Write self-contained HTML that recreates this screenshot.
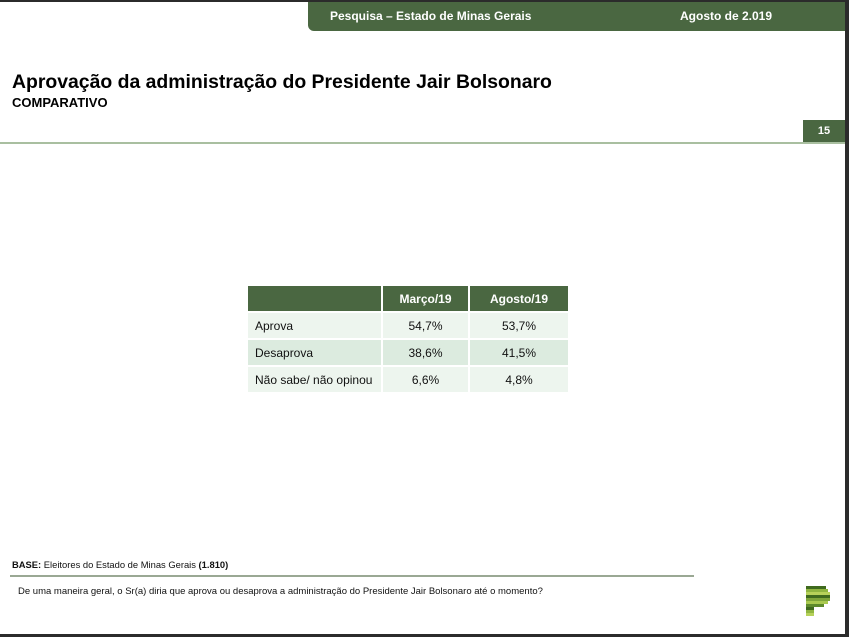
<!DOCTYPE html>
<html><head><meta charset="utf-8"><style>
*{margin:0;padding:0;box-sizing:border-box}
body{width:849px;height:637px;background:#2b2b2b;font-family:"Liberation Sans",Arial,sans-serif;position:relative;overflow:hidden}
#slide{position:absolute;left:0;top:2px;width:845px;height:632px;background:#fff}
.abs{position:absolute}
#hdr{left:308px;top:0;width:537px;height:29px;background:#4a6741;border-bottom-left-radius:6px;color:#fff;font-weight:bold;font-size:12px}
table{position:absolute;left:246px;top:282px;border-collapse:collapse;font-size:12px;color:#111}
td,th{border:2px solid #fff;height:27px}
th{background:#4a6741;color:#fff;font-weight:bold}
td{text-align:center}
td.l{text-align:left;padding-left:7px}
tr.a td{background:#edf5ee}
tr.b td{background:#dcebdf}
</style></head><body>
<div id="slide">
<div id="hdr" class="abs">
<span class="abs" style="left:22px;top:7px">Pesquisa – Estado de Minas Gerais</span>
<span class="abs" style="left:372px;top:7px">Agosto de 2.019</span>
</div>
<div class="abs" style="left:12px;top:69px;font-size:19.4px;font-weight:bold;color:#000">Aprovação da administração do Presidente Jair Bolsonaro</div>
<div class="abs" style="left:12px;top:93px;font-size:13px;font-weight:bold;color:#000">COMPARATIVO</div>
<div class="abs" style="left:803px;top:118px;width:42px;height:22px;background:#4a6741;color:#fff;font-size:11px;font-weight:bold;text-align:center;line-height:22px">15</div>
<div class="abs" style="left:0;top:140px;width:845px;height:2px;background:#a9bfa0"></div>
<table>
<tr><th style="width:135px"></th><th style="width:87px">Março/19</th><th style="width:100px">Agosto/19</th></tr>
<tr class="a"><td class="l">Aprova</td><td>54,7%</td><td>53,7%</td></tr>
<tr class="b"><td class="l">Desaprova</td><td>38,6%</td><td>41,5%</td></tr>
<tr class="a"><td class="l">Não sabe/ não opinou</td><td>6,6%</td><td>4,8%</td></tr>
</table>
<div class="abs" style="left:12px;top:557px;font-size:9.4px;color:#111"><b>BASE:</b> Eleitores do Estado de Minas Gerais <b>(1.810)</b></div>
<div class="abs" style="left:10px;top:573px;width:684px;height:2px;background:#9aa894"></div>
<div class="abs" style="left:18px;top:584px;font-size:9.5px;color:#111">De uma maneira geral, o Sr(a) diria que aprova ou desaprova a administração do Presidente Jair Bolsonaro até o momento?</div>
<svg class="abs" style="left:806px;top:584px" width="26" height="32">
<rect x="0" y="0" width="20" height="3" fill="#3f6a1e"/><rect x="0" y="3" width="22" height="3" fill="#8fb540"/><rect x="0" y="6" width="24" height="3" fill="#b6d15a"/><rect x="0" y="9" width="24" height="3" fill="#3f6a1e"/><rect x="0" y="12" width="24" height="3" fill="#7ea53a"/><rect x="0" y="15" width="22" height="3" fill="#a9c950"/><rect x="0" y="18" width="18" height="3" fill="#5d8a2c"/><rect x="0" y="21" width="8" height="3" fill="#3f6a1e"/><rect x="0" y="24" width="8" height="3" fill="#8fb540"/><rect x="0" y="27" width="8" height="3" fill="#b6d15a"/>
</svg>
</div>
</body></html>
